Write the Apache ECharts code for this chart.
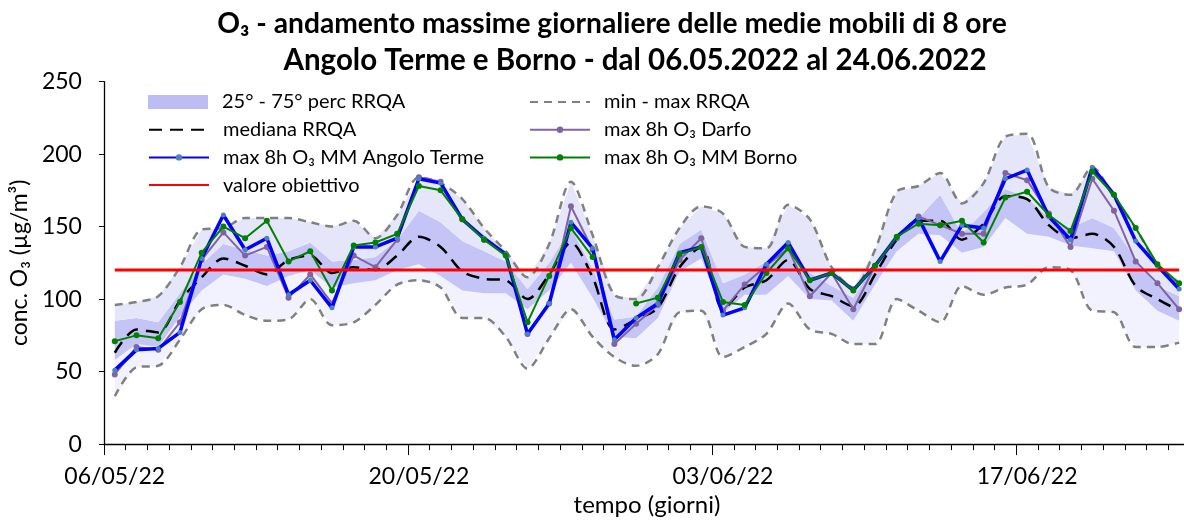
<!DOCTYPE html>
<html>
<head>
<meta charset="utf-8">
<script src="https://cdn.jsdelivr.net/npm/echarts@6/dist/echarts.min.js"></script>
<style>
  html, body { margin: 0; padding: 0; background: #fff; overflow: hidden; }
  /* the plot area runs a few pixels past the right edge of the page */
  #chart { width: 1190px; height: 522px; }
</style>
</head>
<body>
<div id="chart"></div>
<script>
// Giorni del periodo 06/05/2022 - 24/06/2022
const dates = [
  '06/05/22','07/05/22','08/05/22','09/05/22','10/05/22','11/05/22','12/05/22','13/05/22','14/05/22','15/05/22',
  '16/05/22','17/05/22','18/05/22','19/05/22','20/05/22','21/05/22','22/05/22','23/05/22','24/05/22','25/05/22',
  '26/05/22','27/05/22','28/05/22','29/05/22','30/05/22','31/05/22','01/06/22','02/06/22','03/06/22','04/06/22',
  '05/06/22','06/06/22','07/06/22','08/06/22','09/06/22','10/06/22','11/06/22','12/06/22','13/06/22','14/06/22',
  '15/06/22','16/06/22','17/06/22','18/06/22','19/06/22','20/06/22','21/06/22','22/06/22','23/06/22','24/06/22'
];

// Statistiche della rete regionale (RRQA), µg/m³
const rrqaMin = [33,53,54,72,93,96,89,85,86,100, 82,84,96,110,113,108,87,87,74,52,
                 73,93,74,60,54,62,91,92,60,67, 76,97,79,76,69,69,100,92,84,109,
                 103,108,110,122,120,92,91,67,67,70];
const rrqaP25 = [58,69,67,88,106,117,114,109,116,120, 108,111,113,120,124,116,106,104,104,93,
                 106,125,101,74,73,87,119,128,90,103, 103,116,100,99,85,110,133,145,144,132,
                 136,156,145,143,137,135,133,106,92,85];
const rrqaMedian = [63,79,77,99,115,128,123,117,127,130, 118,122,120,130,143,136,119,114,113,100,
                    117,139,115,79,86,94,122,136,93,108, 113,127,107,102,95,117,141,154,154,141,
                    152,171,169,151,142,145,136,109,100,92];
const rrqaP75 = [85,87,84,104,124,138,134,130,133,139, 126,127,129,141,161,153,140,133,126,107,
                 125,149,121,86,88,108,138,148,111,117, 126,138,118,109,101,124,144,156,172,145,
                 160,176,170,156,149,156,149,128,109,102];
const rrqaMax = [96,98,102,122,148,149,156,156,156,153, 150,154,142,158,184,180,169,149,133,115,
                 138,181,144,103,100,122,149,164,159,136, 135,165,155,122,108,134,174,178,187,166,
                 180,212,214,177,172,191,170,149,124,111];

// Massime giornaliere delle medie mobili di 8 ore, µg/m³
const darfo = [48,67,65,84,127,146,130,136,101,117, 97,130,122,141,184,181,155,141,131,76,
               97,164,134,69,83,96,127,142,92,110, 123,135,102,118,93,123,142,157,151,145,
               145,187,182,159,136,183,161,126,111,93];
const angoloTerme = [51,65,66,77,128,158,134,142,103,113, 94,136,136,142,183,180,155,142,131,76,
                     97,153,135,72,87,97,132,136,89,94, 124,139,113,118,106,123,143,156,126,151,
                     149,183,189,157,141,191,172,140,123,107];
const borno = [71,75,73,98,132,150,142,154,126,133, 106,137,139,145,178,175,155,141,130,84,
               116,149,129,null,97,101,131,136,98,96, 118,135,113,118,106,123,143,152,151,154,
               139,170,174,158,147,188,172,149,124,111];

// Valore obiettivo per la protezione della salute umana
const targetValue = 120;

const yTicks = { min: 0, max: 250, step: 50 };
const labelEvery = 14;

const FONT = 'Lato, "Noto Sans", "DejaVu Sans", sans-serif';

const chart = echarts.init(document.getElementById('chart'), null, { renderer: 'canvas' });

const diff = (a, b) => a.map((v, i) => v - b[i]);

const bandBase = {
  type: 'line',
  stack: 'rrqa',
  symbol: 'none',
  silent: true,
  lineStyle: { width: 0, opacity: 0 },
  z: 1
};

const legendText = { fontSize: 20, lineHeight: 20, fontFamily: FONT, color: '#000', padding: [0, 0, 0, 9] };
const noMarker = { opacity: 0 };

const option = {
  animation: false,
  backgroundColor: '#ffffff',
  textStyle: { fontFamily: FONT, color: '#000' },
  graphic: [
    {
      type: 'text', x: 612, y: 10,
      style: {
        text: 'O₃ - andamento massime giornaliere delle medie mobili di 8 ore',
        font: 'bold 28.2px ' + FONT, fill: '#000', align: 'center', textAlign: 'center'
      }
    },
    {
      type: 'text', x: 635, y: 45,
      style: {
        text: 'Angolo Terme e Borno - dal 06.05.2022 al 24.06.2022',
        font: 'bold 29.5px ' + FONT, fill: '#000', align: 'center', textAlign: 'center'
      }
    }
  ],
  grid: { left: 103, top: 81.6, height: 366.7, right: 0, containLabel: false },
  legend: [
    {
      orient: 'vertical', left: 143, top: 87, itemWidth: 60, itemHeight: 14, itemGap: 8,
      textStyle: legendText,
      data: [
        { name: '25° - 75° perc RRQA', icon: 'rect', itemStyle: { color: '#BDBDF6' } }
      ]
    },
    {
      orient: 'vertical', left: 143, top: 114.7, itemWidth: 60, itemHeight: 8, itemGap: 7.7,
      textStyle: legendText,
      data: [
        { name: 'mediana RRQA', itemStyle: noMarker },
        { name: 'max 8h O₃ MM Angolo Terme' },
        { name: 'valore obiettivo', itemStyle: noMarker }
      ]
    },
    {
      orient: 'vertical', left: 524, top: 87, itemWidth: 60, itemHeight: 8, itemGap: 7.7,
      textStyle: legendText,
      data: [
        { name: 'min - max RRQA', itemStyle: noMarker },
        { name: 'max 8h O₃ Darfo' },
        { name: 'max 8h O₃ MM Borno' }
      ]
    }
  ],
  xAxis: [
    {
      type: 'category', data: dates, boundaryGap: true,
      name: 'tempo (giorni)', nameLocation: 'middle', nameGap: 47,
      nameTextStyle: { fontSize: 24, fontFamily: FONT, color: '#000' },
      axisLine: { lineStyle: { color: '#000', width: 1.3 } },
      axisTick: { show: true, interval: 0, length: 6, lineStyle: { color: '#000' } },
      axisLabel: { interval: labelEvery - 1, fontSize: 23, margin: 21, color: '#000', fontFamily: FONT },
      splitLine: { show: false }
    },
    {
      type: 'category', data: dates, boundaryGap: true, gridIndex: 0, position: 'bottom',
      axisLine: { show: false },
      axisTick: { show: true, interval: labelEvery - 1, length: 11, lineStyle: { color: '#000' } },
      axisLabel: { show: false },
      splitLine: { show: false }
    }
  ],
  yAxis: {
    type: 'value', min: yTicks.min, max: yTicks.max, interval: yTicks.step,
    name: 'conc. O₃ (µg/m³)', nameLocation: 'middle', nameGap: 64, nameRotate: 90,
    nameTextStyle: { fontSize: 23, fontFamily: FONT, color: '#000' },
    axisLine: { show: true, lineStyle: { color: '#000', width: 1.3 } },
    axisTick: { show: true, length: 5, lineStyle: { color: '#000' } },
    axisLabel: { fontSize: 23, margin: 22, color: '#000', fontFamily: FONT },
    splitLine: { show: false }
  },
  series: [
    // fascia min - max / 25° - 75° percentile come aree impilate
    Object.assign({}, bandBase, { name: 'base', data: rrqaMin, areaStyle: { opacity: 0 } }),
    Object.assign({}, bandBase, { name: 'min-p25', data: diff(rrqaP25, rrqaMin),
      areaStyle: { color: '#F2F2FE', opacity: 1 } }),
    Object.assign({}, bandBase, { name: '25° - 75° perc RRQA', data: diff(rrqaP75, rrqaP25),
      itemStyle: { color: '#BDBDF6' }, areaStyle: { color: '#C4C4F7', opacity: 1 } }),
    Object.assign({}, bandBase, { name: 'p75-max', data: diff(rrqaMax, rrqaP75),
      areaStyle: { color: '#E6E6FB', opacity: 1 } }),
    {
      name: 'min - max RRQA', type: 'line', data: rrqaMax, symbol: 'none', smooth: 0.3, z: 3,
      itemStyle: { color: '#808080' },
      lineStyle: { color: '#808080', width: 2.5, type: [8, 6] }
    },
    {
      name: 'min - max RRQA', type: 'line', data: rrqaMin, symbol: 'none', smooth: 0.3, z: 3,
      itemStyle: { color: '#808080' },
      lineStyle: { color: '#808080', width: 2.5, type: [8, 6] }
    },
    {
      name: 'mediana RRQA', type: 'line', data: rrqaMedian, symbol: 'none', smooth: 0.3, z: 4,
      itemStyle: { color: '#000' },
      lineStyle: { color: '#000', width: 2.5, type: [13, 8] }
    },
    {
      name: 'max 8h O₃ Darfo', type: 'line', data: darfo, symbol: 'circle', symbolSize: 6, z: 5,
      itemStyle: { color: '#8064A2' },
      lineStyle: { color: '#8064A2', width: 2 }
    },
    {
      name: 'max 8h O₃ MM Angolo Terme', type: 'line', data: angoloTerme, symbol: 'circle', symbolSize: 5, z: 6,
      itemStyle: { color: '#4F81BD' },
      lineStyle: { color: '#0000FF', width: 3.5 }
    },
    {
      name: 'max 8h O₃ MM Borno', type: 'line', data: borno, symbol: 'circle', symbolSize: 6, z: 7,
      connectNulls: false,
      itemStyle: { color: '#008000' },
      lineStyle: { color: '#008000', width: 2 }
    },
    {
      name: 'valore obiettivo', type: 'line', data: dates.map(() => targetValue), symbol: 'none', z: 8,
      itemStyle: { color: '#FF0000' },
      lineStyle: { color: '#FF0000', width: 3 }
    }
  ]
};

chart.setOption(option);
</script>
</body>
</html>
